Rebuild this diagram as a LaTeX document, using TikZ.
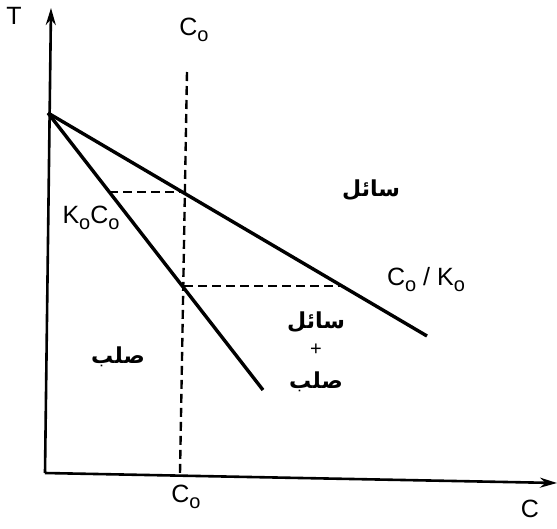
\documentclass[tikz,border=0pt]{standalone}
\usepackage{fontspec}
\setmainfont{Liberation Sans}
\newfontfamily\arabicfont[Script=Arabic]{DejaVu Sans}
\TeXXeTstate=1
\usetikzlibrary{arrows.meta}
\newcommand\subo{\raisebox{-6pt}{\fontsize{20}{20}\selectfont o}}
\begin{document}
\begin{tikzpicture}[x=1pt,y=-1pt,
  axis/.style={line width=2.6pt,-{Stealth[length=17pt,width=10pt]}},
  curve/.style={line width=3.4pt},
  guide/.style={line width=2.4pt,dash pattern=on 9pt off 5pt},
  lab/.style={font=\fontsize{25}{27}\selectfont,inner sep=0pt},
  ar/.style={font=\arabicfont\bfseries\fontsize{22}{24}\selectfont,inner sep=0pt}]
\useasboundingbox (0,0) rectangle (557,528);
\fill[white] (0,0) rectangle (557,528);
% axes
\coordinate (O) at (45,473);
\coordinate (Ttip) at (51,8);
\coordinate (Ctip) at (557,483);
\draw[axis] (O) -- (Ttip);
\draw[axis] (O) -- (Ctip);
% lines
\coordinate (M) at (48,113);
\coordinate (Lend) at (427,336);
\coordinate (Send) at (263,390);
\draw[curve] (M) -- (Lend);
\draw[curve] (M) -- (Send);
% dashed guides
\coordinate (Vtop) at (187,72);
\coordinate (Vbot) at (180,473);
\coordinate (A) at (109,192);
\coordinate (B) at (184,192);
\coordinate (D) at (184,286);
\coordinate (E) at (340,286);
\draw[guide] (Vtop) -- (Vbot);
\draw[guide] (A) -- (B);
\draw[guide] (D) -- (E);
% labels
\node[lab] (T) at (14,16) {T};
\node[lab] (C) at (530,509) {C};
\node[lab] (Cotop) at (194,30) {C\subo};
\node[lab] (Cobot) at (186,497) {C\subo};
\node[lab] (KC) at (91,218) {K\subo C\subo};
\node[lab] (CK) at (426,280) {C\subo\ / K\subo};
\node[ar] (liq) at (371,190) {\beginR سائل\endR};
\node[ar] (liq2) at (316,322) {\beginR سائل\endR};
\node[lab,font=\fontsize{20}{22}\selectfont] (plus) at (316,350) {+};
\node[ar] (sol2) at (316,382) {\beginR صلب\endR};
\node[ar] (sol) at (118,357) {\beginR صلب\endR};
\end{tikzpicture}
\end{document}
